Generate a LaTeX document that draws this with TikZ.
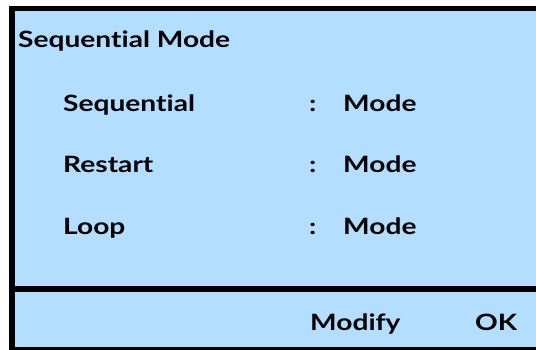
\documentclass[tikz,border=0pt]{standalone}
\usepackage{fontspec}
\setmainfont{Lato}[FakeStretch=1.25,Ligatures=NoCommon]
\definecolor{panel}{RGB}{179,222,255}
\begin{document}
\begin{tikzpicture}[x=1pt,y=-1pt,
  txt/.style={anchor=base west,inner sep=0pt,font=\fontsize{22.5}{24}\selectfont\bfseries},
  frame/.style={draw=black,line width=5.5pt,fill=panel}]
\useasboundingbox (0,0) rectangle (536,350);
\begin{scope}
\clip (0,0) rectangle (536,350);
\draw[frame] (12,8.5) rectangle (545,349.5);
\end{scope}
\coordinate (sl) at (12,289);
\coordinate (sr) at (536,289);
\draw[line width=6pt] (sl) -- (sr);
\node[txt] (title) at (18,48) {Sequential Mode};
\node[txt] (l1) at (63,112) {Sequential};
\node[txt] (l2) at (63,173) {Restart};
\node[txt] (l3) at (63,234) {Loop};
\node[txt] (c1) at (309,112) {:};
\node[txt] (c2) at (309,173) {:};
\node[txt] (c3) at (309,234) {:};
\node[txt] (v1) at (343,112) {Mode};
\node[txt] (v2) at (343,173) {Mode};
\node[txt] (v3) at (343,234) {Mode};
\node[txt] (mod) at (310,330) {Modify};
\node[txt] (ok) at (475,330) {OK};
\end{tikzpicture}
\end{document}
